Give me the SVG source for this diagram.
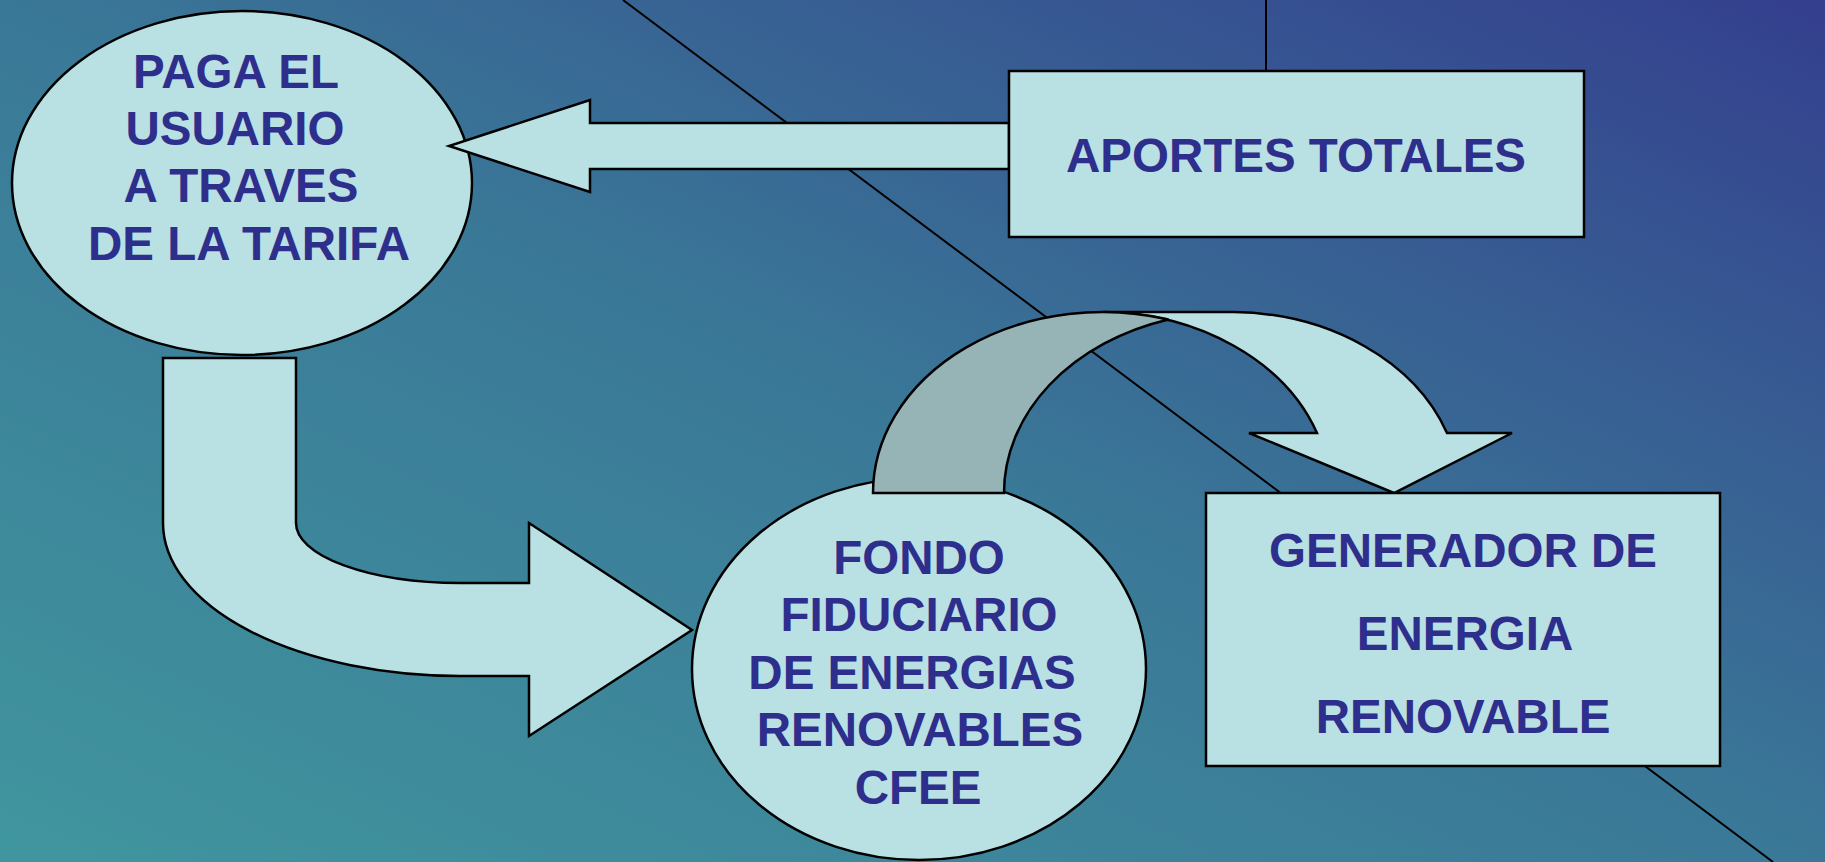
<svg xmlns="http://www.w3.org/2000/svg" width="1825" height="862" viewBox="0 0 1825 862">
<defs>
<linearGradient id="bg" x1="0" y1="1" x2="1" y2="0">
<stop offset="0" stop-color="#40969e"/>
<stop offset="0.5" stop-color="#3a7897"/>
<stop offset="1" stop-color="#343f8e"/>
</linearGradient>
<style>
.shape{fill:#b9e0e3;stroke:#000;stroke-width:2.5;stroke-linejoin:miter}
.back{fill:#96b4b6;stroke:#000;stroke-width:2.5}
.line{stroke:#000;stroke-width:2;fill:none}
.t{font-family:"Liberation Sans",Arial,sans-serif;font-weight:bold;font-size:47.5px;fill:#2e2e8c;text-anchor:middle}
</style>
</defs>
<rect x="0" y="0" width="1825" height="862" fill="url(#bg)"/>
<g id="connectors">
<line class="line" x1="623" y1="0" x2="1773" y2="862"/>
<line class="line" x1="1266" y1="0" x2="1266" y2="71"/>
</g>
<g id="node-paga">
<ellipse class="shape" cx="242" cy="183" rx="230" ry="172"/>
<text class="t" x="236" y="88">PAGA EL</text>
<text class="t" x="235" y="145">USUARIO</text>
<text class="t" x="241" y="202">A TRAVES</text>
<text class="t" x="249" y="260">DE LA TARIFA</text>
</g>
<g id="node-fondo">
<ellipse class="shape" cx="919" cy="669" rx="227" ry="191"/>
</g>
<g id="arrows">
<polygon id="arrow-aportes" class="shape" points="1009,123 590,123 590,100 449,146 590,192 590,169 1009,169"/>
<path id="arrow-bent" class="shape" d="M163,358 L296,358 L296,523 A164,60 0 0 0 460,583 L529,583 L529,523 L692,630 L529,736 L529,676 L460,676 A297,153 0 0 1 163,523 Z"/>
<g id="arrow-curved">
<path class="shape" d="M1394,493 L1249,433 L1317,433 A230,181 0 0 0 1103,312 L1234,312 A230,181 0 0 1 1447,433 L1512,433 Z"/>
<path class="back" d="M873,493 A230,181 0 0 1 1168.5,319.5 A230,181 0 0 0 1004,493 Z"/>
</g>
</g>
<g id="node-fondo-text">
<text class="t" x="919" y="574">FONDO</text>
<text class="t" x="919" y="631">FIDUCIARIO</text>
<text class="t" x="912" y="689">DE ENERGIAS</text>
<text class="t" x="920" y="746">RENOVABLES</text>
<text class="t" x="918" y="804">CFEE</text>
</g>
<g id="node-aportes">
<rect class="shape" x="1009" y="71" width="575" height="166"/>
<text class="t" x="1296" y="172">APORTES TOTALES</text>
</g>
<g id="node-generador">
<rect class="shape" x="1206" y="493" width="514" height="273"/>
<text class="t" x="1463" y="567">GENERADOR DE</text>
<text class="t" x="1465" y="650">ENERGIA</text>
<text class="t" x="1463" y="733">RENOVABLE</text>
</g>
</svg>
